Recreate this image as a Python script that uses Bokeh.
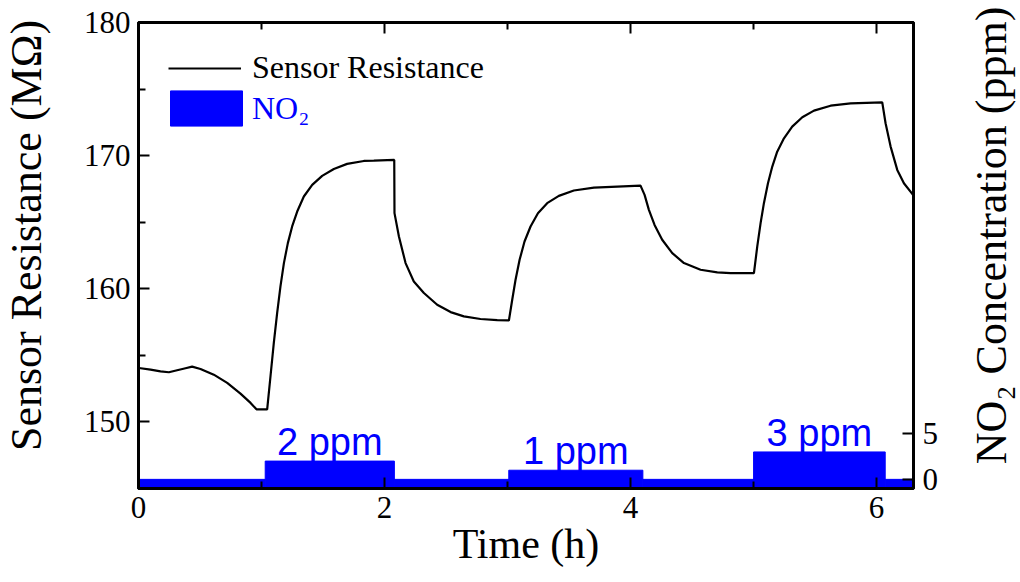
import math
from bokeh.plotting import figure
from bokeh.models import (Range1d, LinearAxis, FixedTicker, Legend, LegendItem,
                          CustomJSTickFormatter, ColumnDataSource, Label)
from bokeh.core.properties import value
from bokeh.embed import file_html
from bokeh.resources import INLINE

# ---------------- data ----------------
time_h = [0.003, 0.098, 0.179, 0.247, 0.314, 0.382, 0.436, 0.504, 0.612, 0.721,
          0.829, 0.911, 0.959, 1.046,
          1.073, 1.100, 1.127, 1.154, 1.182, 1.214, 1.249, 1.290, 1.344, 1.412,
          1.493, 1.588, 1.696, 1.832, 1.913, 2.079,
          2.081, 2.117, 2.171, 2.238, 2.320, 2.428, 2.537, 2.645, 2.780, 2.916, 3.011,
          3.038, 3.065, 3.098, 3.138, 3.187, 3.247, 3.322, 3.417, 3.539, 3.702,
          3.892, 4.081,
          4.114, 4.149, 4.195, 4.257, 4.339, 4.434, 4.569, 4.705, 4.813, 5.003,
          5.030, 5.057, 5.084, 5.117, 5.152, 5.192, 5.247, 5.314, 5.396, 5.491,
          5.626, 5.789, 6.046,
          6.073, 6.114, 6.168, 6.222, 6.290, 6.300]
resistance = [154.05, 153.93, 153.80, 153.73, 153.88, 154.03, 154.15, 153.98, 153.55, 152.93,
              152.13, 151.43, 150.95, 150.95,
              153.43, 155.93, 158.18, 160.18, 161.93, 163.43, 164.68, 165.80, 166.93, 167.80,
              168.48, 169.00, 169.38, 169.60, 169.62, 169.68,
              165.68, 163.93, 161.93, 160.55, 159.68, 158.80, 158.25, 157.93, 157.73, 157.65, 157.62,
              159.18, 160.68, 162.18, 163.55, 164.68, 165.68, 166.43, 166.98, 167.38, 167.60,
              167.68, 167.75,
              167.05, 165.93, 164.80, 163.68, 162.68, 161.93, 161.43, 161.23, 161.18, 161.18,
              163.18, 164.93, 166.43, 167.93, 169.18, 170.30, 171.30, 172.18, 172.88, 173.38,
              173.75, 173.93, 174.00,
              172.43, 170.68, 168.93, 167.93, 167.13, 167.00]

seg_start = [0.00, 1.03, 2.08, 3.01, 4.10, 5.00, 6.07]
seg_end = [1.03, 2.08, 3.01, 4.10, 5.00, 6.07, 6.30]
no2_ppm = [0, 2, 0, 1, 0, 3, 0]

x_ticks = [0, 2, 4, 6]
x_minor = [1, 3, 5]
y_ticks = [150, 160, 170, 180]
y_minor = [145, 155, 165, 175]
conc_ticks = [0, 5]

X_LIM = (0, 6.3)
Y_LIM = (145, 180)
CONC_LIM = (-1, 50)

SERIF = "Liberation Serif"
SANS = "Liberation Sans"
BLUE = "#0000ff"

# ---------------- figure ----------------
p = figure(width=1020, height=582, x_range=Range1d(*X_LIM), y_range=Range1d(*Y_LIM),
           output_backend="svg", toolbar_location=None,
           min_border_left=138, min_border_right=107, min_border_top=22, min_border_bottom=94)
p.extra_y_ranges = {"conc": Range1d(*CONC_LIM)}
p.xgrid.visible = False
p.ygrid.visible = False
p.background_fill_color = "white"
p.border_fill_color = "white"
p.outline_line_color = "black"
p.outline_line_width = 3

# NO2 pulses
pulse_src = ColumnDataSource(dict(left=seg_start, right=seg_end, top=no2_ppm,
                                  bottom=[CONC_LIM[0]] * len(no2_ppm)))
quad_r = p.quad(left="left", right="right", top="top", bottom="bottom", source=pulse_src,
                y_range_name="conc", fill_color=BLUE, line_color=BLUE, line_width=1)

# pulse labels
lab_x = [(s + e) / 2 for s, e, c in zip(seg_start, seg_end, no2_ppm) if c > 0]
lab_y = [c for c in no2_ppm if c > 0]
lab_t = ["%d ppm" % c for c in lab_y]
p.text(x=lab_x, y=lab_y, text=lab_t, y_range_name="conc", text_color=BLUE,
       text_font=value(SANS), text_font_size="38px", text_align="center",
       text_baseline="alphabetic", y_offset=-19)

# sensor resistance
line_r = p.line(time_h, resistance, line_color="black", line_width=2.2)


def style_axis(ax):
    ax.axis_line_width = 3
    ax.axis_line_color = "black"
    ax.major_tick_line_width = 2
    ax.minor_tick_line_width = 2
    ax.major_tick_in = 11
    ax.major_tick_out = 0
    ax.minor_tick_in = 7
    ax.minor_tick_out = 0
    ax.major_label_text_font = SERIF
    ax.major_label_text_font_size = "31px"
    ax.major_label_text_color = "black"
    ax.axis_label_text_font = SERIF
    ax.axis_label_text_font_size = "42px"
    ax.axis_label_text_font_style = "normal"
    ax.axis_label_text_color = "black"


xa = p.xaxis[0]
xa.ticker = FixedTicker(ticks=x_ticks, minor_ticks=x_minor)
xa.axis_label = "Time (h)"
style_axis(xa)
xa.major_label_standoff = 8
xa.axis_label_standoff = 0

ya = p.yaxis[0]
ya.ticker = FixedTicker(ticks=y_ticks, minor_ticks=y_minor)
style_axis(ya)
ya.major_label_standoff = 8

top_ax = LinearAxis(ticker=FixedTicker(ticks=x_ticks, minor_ticks=x_minor),
                    formatter=CustomJSTickFormatter(code="return ''"))
style_axis(top_ax)
top_ax.major_label_text_font_size = "1px"
top_ax.major_label_standoff = 0
p.add_layout(top_ax, "above")

right_ax = LinearAxis(y_range_name="conc", ticker=FixedTicker(ticks=conc_ticks, minor_ticks=[]))
style_axis(right_ax)
right_ax.major_label_standoff = 9
p.add_layout(right_ax, "right")

# vertical titles (both read bottom-to-top), each in its own side panel
for txt, sx, side in (("Sensor Resistance (MΩ)", -5, "left"),
                      ("NO₂ Concentration (ppm)", 50, "right")):
    p.add_layout(Label(x=sx, y=253, x_units="screen", y_units="screen", text=txt,
                       angle=math.pi / 2, text_align="center", text_baseline="middle",
                       text_font=SERIF, text_font_size="44px", text_color="black"), side)

# legends (two, since the label colours differ)
leg1 = Legend(items=[LegendItem(label="Sensor Resistance", renderers=[line_r])],
              location=(30, 402), glyph_width=73, glyph_height=36, label_standoff=11,
              padding=0, margin=0, spacing=0, border_line_color=None,
              background_fill_alpha=0, label_text_font=SERIF,
              label_text_font_size="32px", label_text_color="black")
leg2 = Legend(items=[LegendItem(label="NO₂", renderers=[quad_r])],
              location=(23, 358), glyph_width=90, glyph_height=44, label_standoff=1,
              padding=0, margin=0, spacing=0, border_line_color=None,
              background_fill_alpha=0, label_text_font=SERIF,
              label_text_font_size="32px", label_text_color=BLUE)
p.add_layout(leg1)
p.add_layout(leg2)

open("out.html", "w").write(file_html(p, INLINE))
